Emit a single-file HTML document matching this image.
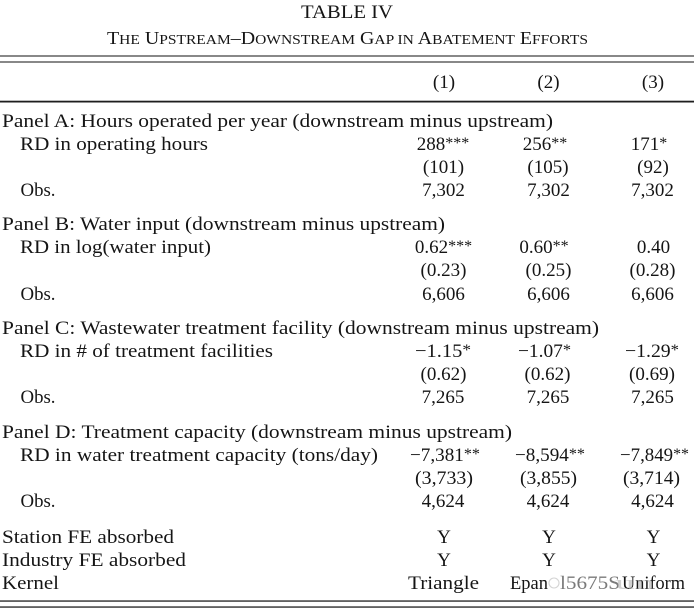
<!DOCTYPE html>
<html>
<head>
<meta charset="utf-8">
<style>
  html, body { margin: 0; padding: 0; background: #ffffff; }
  body { width: 694px; height: 612px; overflow: hidden; }
  svg { display: block; }
  text { font-family: "Liberation Serif", "DejaVu Serif", serif; fill: #151515; font-size: 19px; }
  .c { text-anchor: middle; }
  .s { font-size: 16px; }
</style>
</head>
<body>
<svg width="694" height="612" viewBox="0 0 694 612" xmlns="http://www.w3.org/2000/svg">
  <rect x="0" y="0" width="694" height="612" fill="#ffffff"/>

  <!-- Title -->
  <text x="301" y="18" textLength="92" lengthAdjust="spacingAndGlyphs">TABLE IV</text>
  <text x="107" y="44" textLength="481" lengthAdjust="spacingAndGlyphs" style="font-size:18px">T<tspan style="font-size:14px">HE</tspan> U<tspan style="font-size:14px">PSTREAM</tspan>–D<tspan style="font-size:14px">OWNSTREAM</tspan> G<tspan style="font-size:14px">AP IN</tspan> A<tspan style="font-size:14px">BATEMENT</tspan> E<tspan style="font-size:14px">FFORTS</tspan></text>

  <!-- Rules -->
  <rect x="0" y="55.4" width="694" height="1.2" fill="#3a3a3a"/>
  <rect x="0" y="61.4" width="694" height="1.2" fill="#3a3a3a"/>
  <rect x="0" y="100.7" width="694" height="1.8" fill="#1e1e1e"/>
  <rect x="0" y="600.4" width="694" height="1.3" fill="#1e1e1e"/>
  <rect x="0" y="606.4" width="694" height="1.3" fill="#1e1e1e"/>

  <!-- Column headers -->
  <text class="c" x="444" y="88">(1)</text>
  <text class="c" x="548.5" y="88">(2)</text>
  <text class="c" x="653" y="88">(3)</text>

  <!-- Panel A -->
  <text x="2" y="127" textLength="551" lengthAdjust="spacingAndGlyphs">Panel A: Hours operated per year (downstream minus upstream)</text>
  <text x="20" y="150" textLength="188" lengthAdjust="spacingAndGlyphs">RD in operating hours</text>
  <text x="20.5" y="196" textLength="35" lengthAdjust="spacingAndGlyphs">Obs.</text>

  <text class="c" x="443" y="150">288<tspan class="s" dy="-2">***</tspan></text>
  <text class="c" x="545" y="150">256<tspan class="s" dy="-2">**</tspan></text>
  <text class="c" x="649" y="150">171<tspan class="s" dy="-2">*</tspan></text>
  <text class="c" x="443.5" y="173">(101)</text>
  <text class="c" x="548" y="173">(105)</text>
  <text class="c" x="653" y="173">(92)</text>
  <text class="c" x="443.5" y="196">7,302</text>
  <text class="c" x="548.5" y="196">7,302</text>
  <text class="c" x="652.5" y="196">7,302</text>

  <!-- Panel B -->
  <text x="2" y="230" textLength="443" lengthAdjust="spacingAndGlyphs">Panel B: Water input (downstream minus upstream)</text>
  <text x="20" y="253" textLength="191" lengthAdjust="spacingAndGlyphs">RD in log(water input)</text>
  <text x="20.5" y="300" textLength="35" lengthAdjust="spacingAndGlyphs">Obs.</text>

  <text class="c" x="443.5" y="253">0.62<tspan class="s" dy="-2">***</tspan></text>
  <text class="c" x="544" y="253">0.60<tspan class="s" dy="-2">**</tspan></text>
  <text class="c" x="653.5" y="253">0.40</text>
  <text class="c" x="443.5" y="276">(0.23)</text>
  <text class="c" x="548.5" y="276">(0.25)</text>
  <text class="c" x="652.5" y="276">(0.28)</text>
  <text class="c" x="443.5" y="300">6,606</text>
  <text class="c" x="548.5" y="300">6,606</text>
  <text class="c" x="652.5" y="300">6,606</text>

  <!-- Panel C -->
  <text x="2" y="334" textLength="597" lengthAdjust="spacingAndGlyphs">Panel C: Wastewater treatment facility (downstream minus upstream)</text>
  <text x="20" y="357" textLength="253" lengthAdjust="spacingAndGlyphs">RD in # of treatment facilities</text>
  <text x="20.5" y="403" textLength="35" lengthAdjust="spacingAndGlyphs">Obs.</text>

  <text x="415" y="357" textLength="56" lengthAdjust="spacingAndGlyphs">−1.15<tspan class="s" dy="-2">*</tspan></text>
  <text x="518" y="357" textLength="53" lengthAdjust="spacingAndGlyphs">−1.07<tspan class="s" dy="-2">*</tspan></text>
  <text x="625" y="357" textLength="54" lengthAdjust="spacingAndGlyphs">−1.29<tspan class="s" dy="-2">*</tspan></text>
  <text class="c" x="443.5" y="380">(0.62)</text>
  <text class="c" x="547.5" y="380">(0.62)</text>
  <text class="c" x="652" y="380">(0.69)</text>
  <text class="c" x="443" y="403">7,265</text>
  <text class="c" x="548" y="403">7,265</text>
  <text class="c" x="652.5" y="403">7,265</text>

  <!-- Panel D -->
  <text x="2" y="438" textLength="510" lengthAdjust="spacingAndGlyphs">Panel D: Treatment capacity (downstream minus upstream)</text>
  <text x="20" y="461" textLength="358" lengthAdjust="spacingAndGlyphs">RD in water treatment capacity (tons/day)</text>
  <text x="20.5" y="507" textLength="35" lengthAdjust="spacingAndGlyphs">Obs.</text>

  <text x="410" y="461" textLength="70" lengthAdjust="spacingAndGlyphs">−7,381<tspan class="s" dy="-2">**</tspan></text>
  <text x="515" y="461" textLength="70" lengthAdjust="spacingAndGlyphs">−8,594<tspan class="s" dy="-2">**</tspan></text>
  <text x="620" y="461" textLength="69" lengthAdjust="spacingAndGlyphs">−7,849<tspan class="s" dy="-2">**</tspan></text>
  <text x="415" y="484" textLength="58" lengthAdjust="spacingAndGlyphs">(3,733)</text>
  <text x="520" y="484" textLength="57" lengthAdjust="spacingAndGlyphs">(3,855)</text>
  <text x="623" y="484" textLength="57" lengthAdjust="spacingAndGlyphs">(3,714)</text>
  <text class="c" x="443" y="507">4,624</text>
  <text class="c" x="548" y="507">4,624</text>
  <text class="c" x="652.5" y="507">4,624</text>

  <!-- Bottom rows -->
  <text x="2" y="543" textLength="172" lengthAdjust="spacingAndGlyphs">Station FE absorbed</text>
  <text x="2" y="566" textLength="184" lengthAdjust="spacingAndGlyphs">Industry FE absorbed</text>
  <text x="2" y="589" textLength="57" lengthAdjust="spacingAndGlyphs">Kernel</text>

  <text class="c" x="444" y="543">Y</text>
  <text class="c" x="549" y="543">Y</text>
  <text class="c" x="653.5" y="543">Y</text>
  <text class="c" x="444" y="566">Y</text>
  <text class="c" x="549" y="566">Y</text>
  <text class="c" x="653.5" y="566">Y</text>

  <text x="408" y="589" textLength="71" lengthAdjust="spacingAndGlyphs">Triangle</text>
  <text x="510" y="589" textLength="38" lengthAdjust="spacingAndGlyphs">Epan</text>
  <!-- watermark overlap -->
  <circle cx="554" cy="583" r="5" fill="none" stroke="#d4d4d4" stroke-width="1.1"/>
  <text x="560" y="589" textLength="60" lengthAdjust="spacingAndGlyphs" style="fill:#7a7a7a">l5675S</text>
  <text x="622" y="589" textLength="63" lengthAdjust="spacingAndGlyphs">Uniform</text>
  <text x="615" y="589" textLength="40" lengthAdjust="spacingAndGlyphs" style="fill:#b0b0b0; opacity:0.6">un</text>
</svg>
</body>
</html>
